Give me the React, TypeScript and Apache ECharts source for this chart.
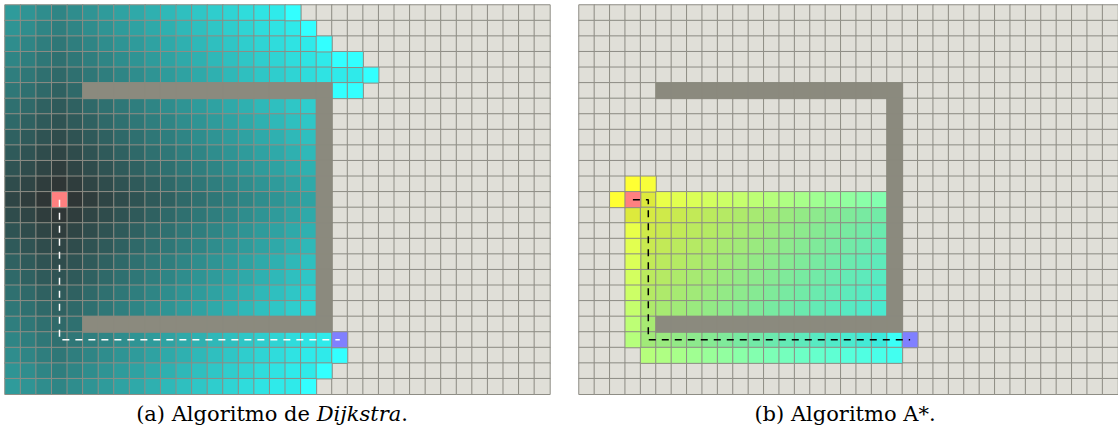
import React, { useEffect, useRef } from "react";
import * as echarts from "echarts";

// '.' free, '#' wall, 'S' start, 'G' goal, base-36 digit = cost value of a visited cell
const dijkstraGrid = [
  "fedcdefghijklmnopqr................",
  "edcbcdefghijklmnopqr...............",
  "dcbabcdefghijklmnopqr..............",
  "cba9abcdefghijklmnopqrs............",
  "ba989abcdefghijklmnopqrs...........",
  "a9878################rs............",
  "9876789abcdefghijklm#..............",
  "87656789abcdefghijkl#..............",
  "765456789abcdefghijk#..............",
  "6543456789abcdefghij#..............",
  "54323456789abcdefghi#..............",
  "432123456789abcdefgh#..............",
  "321S123456789abcdefg#..............",
  "432123456789abcdefgh#..............",
  "54323456789abcdefghi#..............",
  "6543456789abcdefghij#..............",
  "765456789abcdefghijk#..............",
  "87656789abcdefghijkl#..............",
  "9876789abcdefghijklm#..............",
  "a98789abcdefghijklmn#..............",
  "ba989################..............",
  "cba9abcdefghijklmnopqG.............",
  "dcbabcdefghijklmnopqrs.............",
  "edcbcdefghijklmnopqrs..............",
  "fedcdefghijklmnopqrs...............",
];

const astarGrid = [
  "...................................",
  "...................................",
  "...................................",
  "...................................",
  "...................................",
  ".....################..............",
  "....................#..............",
  "....................#..............",
  "....................#..............",
  "....................#..............",
  "....................#..............",
  "...sr...............#..............",
  "..sSqponmlkjihgfedcb#..............",
  "...qponmlkjihgfedcba#..............",
  "...ponmlkjihgfedcba9#..............",
  "...onmlkjihgfedcba98#..............",
  "...nmlkjihgfedcba987#..............",
  "...mlkjihgfedcba9876#..............",
  "...lkjihgfedcba98765#..............",
  "...kjihgfedcba987654#..............",
  "...ji################..............",
  "...ihgfedcba987654321G.............",
  "....ihgfedcba98765432..............",
  "...................................",
  "...................................",
];

// open (frontier) cells, drawn brighter: [col0, row0, col1, row1]
const dijkstraOpen = [
  [18, 0, 18, 0], [19, 1, 19, 1], [20, 2, 20, 2], [21, 3, 22, 3], [23, 4, 23, 4],
  [21, 5, 22, 5], [21, 22, 21, 22], [20, 23, 20, 23], [19, 24, 19, 24],
];
const astarOpen = [
  [3, 11, 4, 11], [2, 12, 2, 12], [5, 12, 19, 12], [3, 14, 3, 21], [20, 21, 20, 21], [4, 22, 20, 22],
];

const dijkstraPath = [[3, 12], [3, 21], [21, 21]];
const astarPath = [[3, 12], [4, 12], [4, 21], [21, 21]];

const captionA = ["(a) Algoritmo de ", "Dijkstra", "."];
const captionB = "(b) Algoritmo A*.";

const FREE = "#e0dfd8";
const LINE = "#8e8d85";
const WALL = "#8b8a7e";
const START = "#ff8080";
const GOAL = "#8080ff";

function inRects(rects: number[][], c: number, r: number) {
  return rects.some(([c0, r0, c1, r1]) => c >= c0 && c <= c1 && r >= r0 && r <= r1);
}

// kind codes for fixed-colour cells
const KIND_FREE = 0, KIND_WALL = 1, KIND_START = 2, KIND_GOAL = 3;

function split(grid: string[], open: number[][]) {
  const free: number[][] = [], wall: number[][] = [], marks: number[][] = [];
  const op: number[][] = [], cl: number[][] = [];
  grid.forEach((row, r) => {
    for (let c = 0; c < row.length; c++) {
      const ch = row[c];
      if (ch === ".") free.push([c, r, KIND_FREE]);
      else if (ch === "#") wall.push([c, r, KIND_WALL]);
      else if (ch === "S") marks.push([c, r, KIND_START]);
      else if (ch === "G") marks.push([c, r, KIND_GOAL]);
      else (inRects(open, c, r) ? op : cl).push([c, r, parseInt(ch, 36)]);
    }
  });
  return { free, wall, marks, op, cl };
}

export default function App() {
  const ref = useRef<HTMLDivElement>(null);
  useEffect(() => {
    if (!ref.current) return;
    const chart = echarts.init(ref.current, undefined, { renderer: "svg" });
    const COLS = dijkstraGrid[0].length;
    const ROWS = dijkstraGrid.length;
    const cell = 15.57;
    const lefts = [5, 579];
    const cols = Array.from({ length: COLS }, (_, i) => String(i));
    const rows = Array.from({ length: ROWS }, (_, i) => String(i));

    const panels = [
      { d: split(dijkstraGrid, dijkstraOpen), path: dijkstraPath, pathColor: "#ffffff" },
      { d: split(astarGrid, astarOpen), path: astarPath, pathColor: "#000000" },
    ];
    const series: any[] = [];
    const visualMap: any[] = [];
    const fixedIdx: number[] = [];
    panels.forEach((p, gi) => {
      const ax = { xAxisIndex: gi, yAxisIndex: gi };
      const hm = (name: string, data: number[][], item: any) => ({
        type: "heatmap", name, ...ax, data, silent: true,
        itemStyle: { borderColor: LINE, borderWidth: 1, ...item },
        emphasis: { disabled: true },
      });
      fixedIdx.push(series.length);
      series.push(hm("free" + gi, p.d.free, {}));
      const closedIdx = series.length;
      series.push(hm("closed" + gi, p.d.cl, {}));
      const openIdx = series.length;
      series.push(hm("open" + gi, p.d.op, {}));
      fixedIdx.push(series.length);
      series.push(hm("marks" + gi, p.d.marks, {}));
      fixedIdx.push(series.length);
      series.push(hm("wall" + gi, p.d.wall, { borderColor: WALL }));
      series.push({
        type: "line", ...ax, data: p.path, symbol: "none", silent: true, z: 5,
        lineStyle: { color: p.pathColor, width: 1.5, type: [7, 6] },
      });
      if (gi === 0) {
        visualMap.push({
          type: "continuous", show: false, seriesIndex: closedIdx, dimension: 2,
          min: 0, max: 26, inRange: { color: ["#2f2f2f", "#2feaea"] }, outOfRange: { color: "#2feaea" },
        });
        visualMap.push({
          type: "continuous", show: false, seriesIndex: openIdx, dimension: 2,
          min: 0, max: 26, inRange: { color: ["#333333", "#33ffff"] }, outOfRange: { color: "#33ffff" },
        });
      } else {
        visualMap.push({
          type: "continuous", show: false, seriesIndex: closedIdx, dimension: 2,
          min: 0, max: 28, inRange: { color: ["#2feaea", "#eaea2f"] }, outOfRange: { color: "#eaea2f" },
        });
        visualMap.push({
          type: "continuous", show: false, seriesIndex: openIdx, dimension: 2,
          min: 0, max: 28, inRange: { color: ["#33ffff", "#ffff33"] }, outOfRange: { color: "#ffff33" },
        });
      }
    });
    visualMap.push({
      type: "piecewise", show: false, seriesIndex: fixedIdx, dimension: 2,
      pieces: [
        { value: KIND_FREE, color: FREE },
        { value: KIND_WALL, color: WALL },
        { value: KIND_START, color: START },
        { value: KIND_GOAL, color: GOAL },
      ],
    });

    const font = "DejaVu Serif";
    chart.setOption({
      animation: false,
      backgroundColor: "#ffffff",
      grid: lefts.map((l) => ({ left: l, top: 5, width: cell * COLS, height: cell * ROWS })),
      xAxis: lefts.map((_, i) => ({ type: "category", gridIndex: i, data: cols, show: false })),
      yAxis: lefts.map((_, i) => ({ type: "category", gridIndex: i, data: rows, show: false, inverse: true })),
      visualMap,
      series,
      graphic: [
        {
          type: "text", x: 272, y: 414, silent: true,
          style: {
            text: `{n|${captionA[0]}}{i|${captionA[1]}}{n|${captionA[2]}}`,
            align: "center", verticalAlign: "middle", textAlign: "center", textVerticalAlign: "middle",
            rich: {
              n: { fontFamily: font, fontSize: 21, fill: "#000" },
              i: { fontFamily: font, fontSize: 21, fontStyle: "italic", fill: "#000" },
            },
          },
        },
        {
          type: "text", x: 845, y: 414, silent: true,
          style: {
            text: captionB, fontFamily: font, fontSize: 21, fill: "#000",
            align: "center", verticalAlign: "middle", textAlign: "center", textVerticalAlign: "middle",
          },
        },
      ],
    });
    return () => chart.dispose();
  }, []);
  return (
    <div
      ref={ref}
      style={{ position: "fixed", left: 0, top: 0, width: 1118, height: 434, background: "#fff" }}
    />
  );
}
